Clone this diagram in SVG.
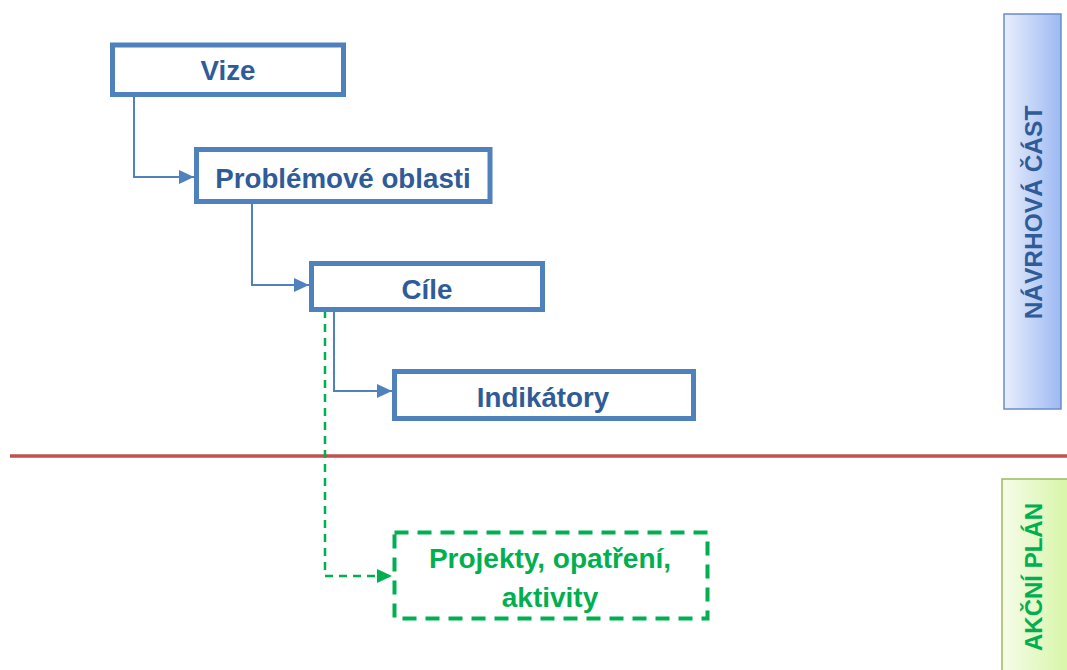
<svg xmlns="http://www.w3.org/2000/svg" width="1067" height="670" viewBox="0 0 1067 670">
<style>
.box{fill:#fff;stroke:#4F81BD;stroke-width:5}
.btxt{font-family:"Liberation Sans",Arial,sans-serif;font-weight:bold;font-size:27.7px;fill:#2F5C98;text-anchor:middle}
.gtxt{font-family:"Liberation Sans",Arial,sans-serif;font-weight:bold;font-size:28px;fill:#00B050;text-anchor:middle}
.conn{fill:none;stroke:#4F81BD;stroke-width:2}
.gconn{fill:none;stroke:#00B050;stroke-width:2.5;stroke-dasharray:8 6}
</style>
<defs>
<marker id="ab" markerUnits="userSpaceOnUse" markerWidth="16" markerHeight="14" refX="15" refY="7" orient="auto"><path d="M0,0 L15,7 L0,14 Z" fill="#4F81BD"/></marker>
<marker id="ag" markerUnits="userSpaceOnUse" markerWidth="16" markerHeight="14" refX="15" refY="7" orient="auto"><path d="M0,0 L15,7 L0,14 Z" fill="#00B050"/></marker>
<linearGradient id="gb" x1="0" y1="0" x2="1" y2="0"><stop offset="0" stop-color="#E8EEFC"/><stop offset="1" stop-color="#9DB9F3"/></linearGradient>
<linearGradient id="gg" x1="0" y1="0" x2="1" y2="0"><stop offset="0" stop-color="#F5FCEA"/><stop offset="1" stop-color="#D6F5A4"/></linearGradient>
</defs>
<rect width="1067" height="670" fill="#fff"/>
<line x1="10" y1="456" x2="1067" y2="456" stroke="#C0504D" stroke-width="3.5"/>
<g id="sec-navrh">
<rect x="1004" y="14" width="57" height="395" fill="url(#gb)" stroke="#6A8CCB" stroke-width="1.5"/>
<text transform="translate(1042,212.5) rotate(-90)" font-family="'Liberation Sans',Arial,sans-serif" font-weight="bold" font-size="24.5" fill="#2F5C98" text-anchor="middle">NÁVRHOVÁ ČÁST</text>
</g>
<g id="sec-akcni">
<rect x="1002" y="479" width="70" height="200" fill="url(#gg)" stroke="#9BBB59" stroke-width="1.5"/>
<text transform="translate(1042,577) rotate(-90)" font-family="'Liberation Sans',Arial,sans-serif" font-weight="bold" font-size="24" fill="#00B050" text-anchor="middle">AKČNÍ PLÁN</text>
</g>
<g id="connectors">
<path class="conn" d="M134,97 V177 H194" marker-end="url(#ab)"/>
<path class="conn" d="M252,204 V285 H309" marker-end="url(#ab)"/>
<path class="conn" d="M334,312 V391 H392" marker-end="url(#ab)"/>
<path class="gconn" d="M325,310 V576 H392" marker-end="url(#ag)"/>
</g>
<g id="n-vize">
<rect class="box" x="112.5" y="45" width="231" height="49.5"/>
<text class="btxt" x="228" y="79.5">Vize</text>
</g>
<g id="n-problemove">
<rect class="box" x="196.5" y="149.5" width="293.5" height="52"/>
<text class="btxt" x="343" y="187.5">Problémové oblasti</text>
</g>
<g id="n-cile">
<rect class="box" x="311.5" y="263.5" width="231" height="46"/>
<text class="btxt" x="427" y="299">Cíle</text>
</g>
<g id="n-indikatory">
<rect class="box" x="394.5" y="371.5" width="299" height="47"/>
<text class="btxt" x="543" y="406.5">Indikátory</text>
</g>
<g id="n-projekty">
<rect x="394.5" y="532.5" width="313" height="86" fill="#fff" stroke="#00B050" stroke-width="4" stroke-dasharray="14 9"/>
<text class="gtxt" x="550" y="568">Projekty, opatření,</text>
<text class="gtxt" x="550" y="607">aktivity</text>
</g>
</svg>
